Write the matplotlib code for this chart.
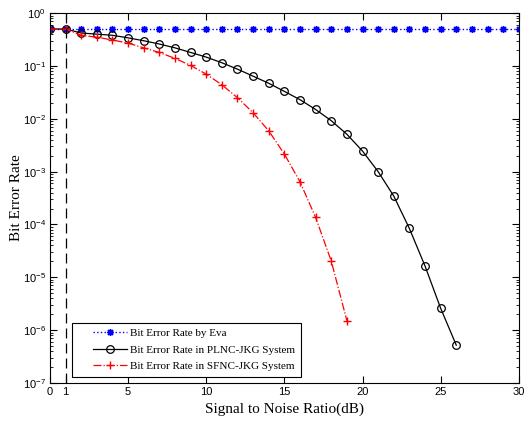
import matplotlib
matplotlib.use('Agg')
import matplotlib.pyplot as plt
import numpy as np
from matplotlib.legend_handler import HandlerLine2D
from matplotlib.ticker import LogLocator, NullFormatter

snr_eva = np.arange(0, 31)
ber_eva = np.full(len(snr_eva), 0.5)

snr_plnc = np.arange(0, 27)
ber_plnc = [0.5, 0.5, 0.42, 0.40, 0.38, 0.34, 0.30, 0.26, 0.22, 0.18,
            0.147, 0.115, 0.087, 0.064, 0.047, 0.033, 0.023, 0.015,
            0.0092, 0.0051, 0.00245, 0.001, 3.45e-4, 8.4e-5, 1.64e-5,
            2.6e-6, 5.2e-7]

snr_sfnc = np.arange(0, 20)
ber_sfnc = [0.5, 0.5, 0.38, 0.35, 0.31, 0.27, 0.22, 0.18, 0.139, 0.102,
            0.070, 0.044, 0.025, 0.013, 0.0059, 0.00215, 6.4e-4, 1.36e-4,
            2.03e-5, 1.51e-6]

x_ticks = [0, 1, 5, 10, 15, 20, 25, 30]
threshold_snr = 1

serif = ['Liberation Serif', 'DejaVu Serif']
sans = ['Liberation Sans', 'DejaVu Sans']

fig = plt.figure(figsize=(5.24, 4.23), dpi=100)
ax = fig.add_axes([0.0954, 0.0946, 0.8946, 0.8744])

asterisk = (8, 2, 0)
eva_line, = ax.semilogy(
    snr_eva, ber_eva, color='blue', linestyle=':', linewidth=1.0,
    marker=asterisk, markersize=5, markeredgewidth=1.0,
    label='Bit Error Rate by Eva')
plnc_line, = ax.semilogy(
    snr_plnc, ber_plnc, color='black', linestyle='-', linewidth=0.9,
    marker='o', markersize=5.5, markerfacecolor='none',
    markeredgewidth=0.9, label='Bit Error Rate in PLNC-JKG System')
sfnc_line, = ax.semilogy(
    snr_sfnc, ber_sfnc, color='red', linestyle='-.', linewidth=0.9,
    marker='+', markersize=6, markeredgewidth=1.0,
    label='Bit Error Rate in SFNC-JKG System')
ax.axvline(threshold_snr, color='black', linestyle=(0, (8, 4)), linewidth=0.9)

ax.set_xlim(0, 30)
ax.set_ylim(1e-7, 1)
ax.set_xticks(x_ticks)
ax.yaxis.set_major_locator(LogLocator(base=10, numticks=10))
ax.yaxis.set_minor_locator(LogLocator(base=10, subs=np.arange(2, 10),
                                      numticks=100))
ax.yaxis.set_minor_formatter(NullFormatter())
ax.tick_params(which='both', direction='in', top=True, right=True)
ax.tick_params(which='major', length=5, labelsize=8, pad=3)
ax.tick_params(which='minor', length=2.5)
for label in ax.get_xticklabels() + ax.get_yticklabels():
    label.set_fontfamily(sans)

ax.set_xlabel('Signal to Noise Ratio(dB)', fontsize=11, family=serif,
              labelpad=4)
ax.set_ylabel('Bit Error Rate', fontsize=11, family=serif, labelpad=0)

# Shift the legend sample lines right so there is blank space before them.
handler = HandlerLine2D(xpad=1.4)
legend = ax.legend(
    handles=[eva_line, plnc_line, sfnc_line],
    handler_map={eva_line: handler, plnc_line: handler, sfnc_line: handler},
    loc='lower left', bbox_to_anchor=(0.047, 0.017),
    prop={'family': serif, 'size': 8}, fancybox=False,
    edgecolor='black', framealpha=1, handlelength=4.46, handletextpad=0.3,
    borderpad=0.5, labelspacing=0.6, borderaxespad=0)
legend.get_frame().set_linewidth(0.8)

fig.savefig('out.png', dpi=100)
